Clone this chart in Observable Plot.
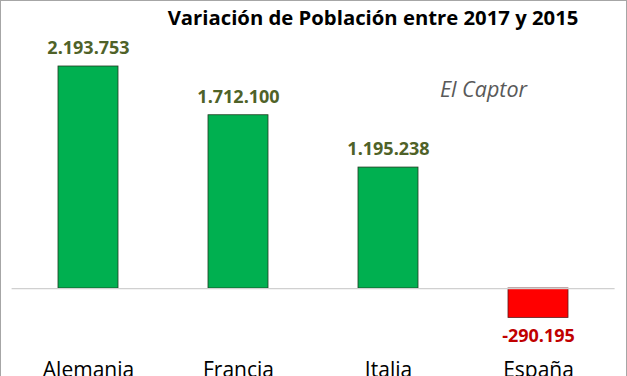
<!DOCTYPE html>
<html>
<head>
<meta charset="utf-8">
<script src="https://cdn.jsdelivr.net/npm/d3@7"></script>
<script src="https://cdn.jsdelivr.net/npm/@observablehq/plot@0.6"></script>
<style>
  html, body { margin: 0; padding: 0; background: #fff; }
  #wrap { position: relative; width: 627px; height: 376px; overflow: hidden; background: #fff; font-family: "Open Sans", sans-serif; }
  #border { position: absolute; left: 0; top: 0; width: 627px; height: 380px; box-sizing: border-box; border: 1px solid #a6a6a6; pointer-events: none; z-index: 3; }
  #title { position: absolute; top: 3px; left: 0; width: 746px; text-align: center; font-weight: bold; font-size: 20.3px; color: #000; z-index: 2; white-space: nowrap; }
  #credit { position: absolute; top: 74px; left: 440px; font-style: italic; font-size: 21.5px; color: #595959; z-index: 2; white-space: nowrap; }
  #chart { position: absolute; left: 0; top: 0; }
</style>
</head>
<body>
<div id="wrap">
  <div id="title">Variación de Población entre 2017 y 2015</div>
  <div id="credit">El Captor</div>
  <div id="chart"></div>
  <div id="border"></div>
</div>
<script>
const countries = ["Alemania", "Francia", "Italia", "España"];
const values = [2193753, 1712100, 1195238, -290195];

const data = countries.map((c, i) => ({country: c, value: values[i]}));
const pos = data.filter(d => d.value >= 0);
const neg = data.filter(d => d.value < 0);
const fmt = d3.formatLocale({decimal: ",", thousands: ".", grouping: [3], currency: ["", "€"], minus: "-"}).format(",d");

const chart = Plot.plot({
  width: 627,
  height: 376,
  marginTop: 66,
  marginBottom: 58.6,
  marginLeft: 11.6,
  marginRight: 12.4,
  style: {fontFamily: "'Open Sans', sans-serif", background: "transparent", overflow: "visible"},
  x: {domain: countries, paddingInner: 0.6, paddingOuter: 0.3, label: null},
  y: {domain: [d3.min(values), d3.max(values)], axis: null},
  marks: [
    Plot.barY(pos, {x: "country", y: "value", fill: "#00b050", stroke: "#1e3a1e", strokeWidth: 0.8}),
    Plot.barY(neg, {x: "country", y: "value", fill: "#ff0000", stroke: "#5a1a1a", strokeWidth: 0.8}),
    Plot.ruleY([0], {stroke: "#d0d0d0", strokeWidth: 1.2}),
    Plot.text(pos, {x: "country", y: "value", text: d => fmt(d.value), dy: -18, fontWeight: "bold", fontSize: 18, fill: "#4f6228"}),
    Plot.text(neg, {x: "country", y: "value", text: d => fmt(d.value), dy: 18, fontWeight: "bold", fontSize: 18, fill: "#c00000"}),
    Plot.axisX({tickSize: 0, tickPadding: 44, fontSize: 21, fill: "#000", label: null})
  ]
});
document.getElementById("chart").appendChild(chart);
</script>
</body>
</html>
